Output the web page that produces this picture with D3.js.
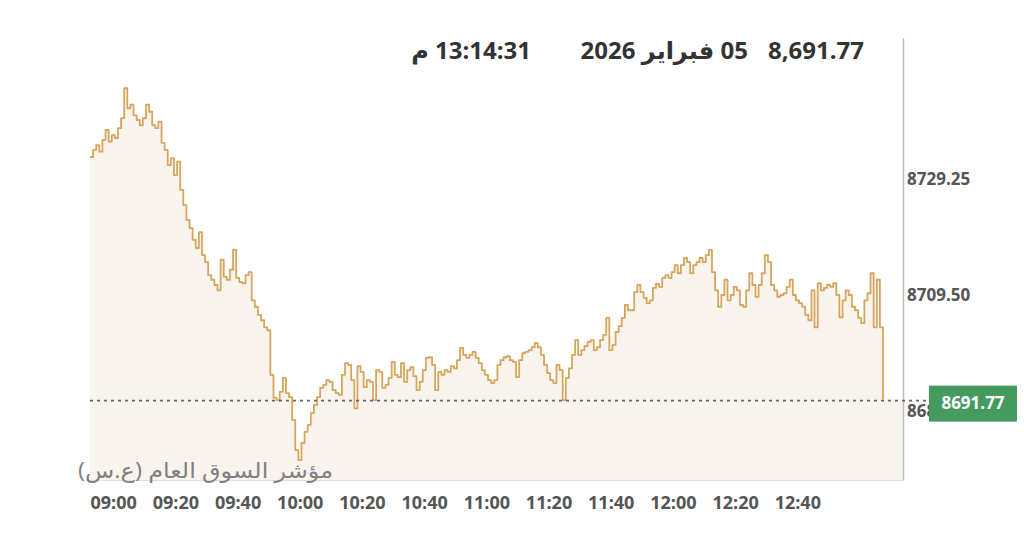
<!DOCTYPE html>
<html lang="ar">
<head>
<meta charset="utf-8">
<script src="https://cdn.jsdelivr.net/npm/d3@7"></script>
<style>
  html, body { margin: 0; padding: 0; background: #fff; }
  #main svg { display: block; }
</style>
</head>
<body>
<div id="main"></div>
<script>
// one price per minute starting at 09:00
const START_TIME = "09:00";
const prices = [
  8733.0, 8734.2, 8735.0, 8733.9, 8735.9, 8737.6, 8735.6, 8736.7, 8736.2, 8737.9,
  8739.6, 8744.7, 8741.3, 8741.9, 8740.1, 8739.3, 8738.4, 8739.6, 8741.9, 8740.7,
  8738.4, 8737.9, 8739.0, 8735.4, 8734.2, 8731.6, 8732.8, 8729.9, 8732.2, 8727.4,
  8724.8, 8722.3, 8720.9, 8718.9, 8717.5, 8720.2, 8716.3, 8715.1, 8712.9, 8712.1,
  8711.2, 8710.3, 8715.5, 8712.6, 8712.1, 8713.8, 8717.2, 8712.4, 8711.7, 8711.5,
  8712.9, 8713.4, 8708.6, 8707.5, 8706.1, 8705.2, 8704.0, 8703.5, 8695.9, 8692.0,
  8691.6, 8693.0, 8695.4, 8692.8, 8692.1, 8688.2, 8683.1, 8681.4, 8684.3, 8686.2,
  8687.4, 8689.4, 8690.8, 8692.1, 8693.7, 8694.2, 8695.0, 8694.7, 8693.3, 8692.8,
  8692.5, 8695.9, 8697.9, 8697.6, 8695.0, 8690.2, 8697.4, 8696.4, 8693.8, 8695.0,
  8694.7, 8691.6, 8696.7, 8696.4, 8693.7, 8694.2, 8695.4, 8698.1, 8695.9, 8695.5,
  8697.9, 8694.7, 8696.7, 8697.2, 8695.7, 8693.3, 8694.7, 8696.7, 8698.8, 8698.9,
  8697.6, 8693.3, 8696.4, 8695.9, 8696.7, 8696.4, 8697.4, 8697.0, 8698.4, 8700.5,
  8699.3, 8698.8, 8699.3, 8699.8, 8698.8, 8697.9, 8696.7, 8695.9, 8695.0, 8694.5,
  8695.0, 8697.6, 8698.4, 8698.9, 8699.1, 8698.4, 8698.1, 8695.5, 8698.4, 8699.6,
  8699.8, 8700.1, 8700.6, 8701.3, 8700.6, 8699.3, 8697.6, 8696.2, 8695.0, 8694.5,
  8697.6, 8696.7, 8691.6, 8695.4, 8697.0, 8699.3, 8701.8, 8699.3, 8700.1, 8700.8,
  8701.5, 8701.8, 8700.1, 8700.6, 8701.8, 8702.7, 8705.6, 8700.1, 8701.0, 8703.2,
  8704.2, 8705.6, 8707.8, 8706.9, 8706.9, 8710.0, 8711.2, 8710.0, 8709.0, 8708.1,
  8708.6, 8710.7, 8711.4, 8710.9, 8712.4, 8712.9, 8712.4, 8713.4, 8714.6, 8713.2,
  8714.6, 8715.8, 8715.1, 8713.2, 8714.6, 8715.1, 8715.8, 8715.1, 8716.3, 8717.2,
  8713.4, 8710.3, 8707.5, 8709.5, 8712.1, 8708.6, 8709.5, 8710.9, 8710.3, 8707.8,
  8707.5, 8710.3, 8713.2, 8711.2, 8709.2, 8711.2, 8713.2, 8716.3, 8715.1, 8711.2,
  8710.3, 8709.2, 8709.5, 8709.8, 8710.9, 8712.1, 8709.5, 8708.6, 8708.1, 8707.5,
  8706.1, 8705.2, 8710.3, 8704.0, 8711.5, 8710.3, 8710.7, 8711.2, 8710.9, 8711.5,
  8709.5, 8705.7, 8708.6, 8710.3, 8709.5, 8707.5, 8706.9, 8705.6, 8704.7, 8708.6,
  8709.8, 8713.2, 8704.0, 8712.1, 8704.0, 8691.77
];
const lastPrice = 8691.77;
const yTicks = [8689.75, 8709.50, 8729.25];
const xTickLabels = ["09:00", "09:20", "09:40", "10:00", "10:20", "10:40",
                     "11:00", "11:20", "11:40", "12:00", "12:20", "12:40"];
const headerValue = "8,691.77";
const headerDate = "05 فبراير 2026";
const headerTime = "13:14:31 م";
const indexName = "مؤشر السوق العام (ع.س)";

const ctx = {
    w: 1024,
    h: 551,
    left: 90,
    lastX: 883,   // where the last quote sits
    right: 903,   // price axis
    top: 38,
    bottom: 480,
    yMin: 8678.0,
    yMax: 8753.26,
    LINE_COLOR: "#d6a65e",
    FILL_COLOR: "#faf4ee",
    TEXT_COLOR: "#555",
    FONT: "'Open Sans', 'Noto Sans', 'DejaVu Sans', sans-serif",
};

function createViz(){
    const svg = d3.select("#main").append("svg")
        .attr("width", ctx.w)
        .attr("height", ctx.h);

    const parse = d3.timeParse("%H:%M");
    const t0 = parse(START_TIME);
    const data = prices.map((p, i) => ({t: d3.timeMinute.offset(t0, i), v: p}));
    const tLast = data[data.length - 1].t;

    const x = d3.scaleTime().domain([t0, tLast]).range([ctx.left, ctx.lastX]);
    const y = d3.scaleLinear().domain([ctx.yMin, ctx.yMax]).range([ctx.bottom, ctx.top]);

    // area below the line, carried flat to the axis after the last quote
    const areaData = data.concat([{t: x.invert(ctx.right), v: lastPrice}]);
    svg.append("path")
        .datum(areaData)
        .attr("fill", ctx.FILL_COLOR)
        .attr("d", d3.area()
            .curve(d3.curveStepAfter)
            .x(d => x(d.t))
            .y0(ctx.bottom)
            .y1(d => y(d.v)));

    // bottom edge of plot
    svg.append("line")
        .attr("x1", ctx.left).attr("x2", ctx.right)
        .attr("y1", ctx.bottom + 0.5).attr("y2", ctx.bottom + 0.5)
        .attr("stroke", "#e2dcd6");

    svg.append("path")
        .datum(data)
        .attr("fill", "none")
        .attr("stroke", ctx.LINE_COLOR)
        .attr("stroke-width", 1.8)
        .attr("stroke-linejoin", "round")
        .attr("d", d3.line()
            .curve(d3.curveStepAfter)
            .x(d => x(d.t))
            .y(d => y(d.v)));

    // y axis on the right
    const yAxis = svg.append("g")
        .attr("transform", `translate(${ctx.right},0)`)
        .call(d3.axisRight(y).tickValues(yTicks).tickFormat(d3.format(".2f"))
              .tickSize(0).tickSizeOuter(0).tickPadding(4));
    yAxis.select(".domain").attr("stroke", "#bdbdbd").attr("stroke-width", 1.5);
    yAxis.selectAll("text")
        .attr("fill", ctx.TEXT_COLOR)
        .style("font-family", ctx.FONT)
        .style("font-size", "17px")
        .style("font-weight", "700");

    // x axis, labels start at the tick
    const xAxis = svg.append("g")
        .attr("transform", `translate(0,${ctx.bottom})`)
        .call(d3.axisBottom(x).tickValues(xTickLabels.map(parse))
              .tickFormat(d3.timeFormat("%H:%M")).tickSize(0).tickPadding(16));
    xAxis.select(".domain").remove();
    xAxis.selectAll("text")
        .attr("text-anchor", "start")
        .attr("fill", ctx.TEXT_COLOR)
        .style("font-family", ctx.FONT)
        .style("font-size", "18px")
        .style("font-weight", "700");

    // last price line and badge
    const ly = y(lastPrice) + 1.5;
    svg.append("line")
        .attr("x1", ctx.left).attr("x2", 930)
        .attr("y1", ly).attr("y2", ly)
        .attr("stroke", "#666")
        .attr("stroke-width", 1.6)
        .attr("stroke-dasharray", "3,4");
    svg.append("rect")
        .attr("x", 929).attr("y", ly - 15)
        .attr("width", 88).attr("height", 36)
        .attr("fill", "#449a5f");
    svg.append("text")
        .attr("x", 973).attr("y", ly + 4)
        .attr("text-anchor", "middle")
        .attr("dominant-baseline", "middle")
        .attr("fill", "#fff")
        .style("font-family", ctx.FONT)
        .style("font-size", "17px")
        .style("font-weight", "700")
        .text(d3.format(".2f")(lastPrice));

    // index name
    svg.append("text")
        .attr("x", 333).attr("y", 478)
        .attr("direction", "rtl")
        .attr("text-anchor", "start")
        .attr("fill", "#808080")
        .attr("textLength", 255)
        .attr("lengthAdjust", "spacingAndGlyphs")
        .style("font-family", ctx.FONT)
        .style("font-size", "21px")
        .text(indexName);

    // header
    const header = [
        {txt: headerValue, x: 864},
        {txt: headerDate, x: 748},
        {txt: headerTime, x: 531},
    ];
    svg.selectAll(".hdr")
        .data(header)
        .enter()
        .append("text")
        .attr("class", "hdr")
        .attr("x", d => d.x).attr("y", 59)
        .attr("direction", "rtl")
        .attr("text-anchor", "start")
        .attr("fill", "#333")
        .style("font-family", ctx.FONT)
        .style("font-size", "24px")
        .style("font-weight", "700")
        .text(d => d.txt);
}

createViz();
</script>
</body>
</html>
